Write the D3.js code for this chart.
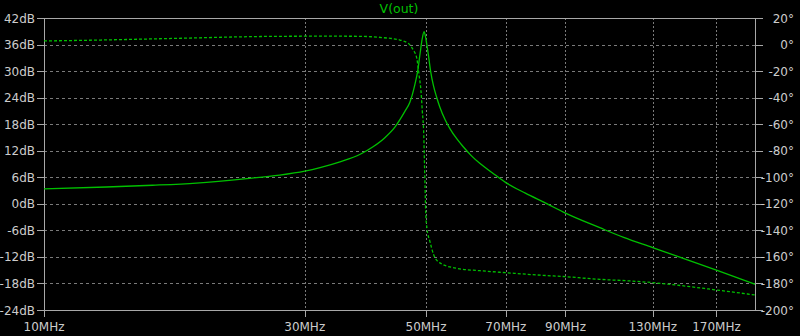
<!DOCTYPE html>
<html>
<head>
<meta charset="utf-8">
<script src="https://cdn.jsdelivr.net/npm/d3@7"></script>
<style>
  html, body { margin: 0; padding: 0; background: #000; }
  svg { display: block; }
</style>
</head>
<body>
<div id="chart"></div>
<script>
// Bode plot of V(out): magnitude (solid) and phase (dashed)
const magFreq = [10, 13, 15.8, 19, 23.5, 27, 30, 32, 34.8, 37.9, 40, 42, 43.9, 45.8, 46.7, 47.7, 48.3, 48.8, 49.2, 49.6, 49.9, 50.2, 50.5, 51.0, 51.6, 52.3, 53.0, 54.2, 55.3, 57, 58.5, 60.5, 62.8, 66, 70, 76, 83, 90, 104, 115, 130, 150, 170, 200];
const magDb   = [3.4, 3.8, 4.2, 4.7, 5.7, 6.5, 7.4, 8.2, 9.5, 11.2, 12.9, 14.9, 17.4, 21.0, 22.9, 26.9, 30.1, 34.2, 37.2, 38.9, 37.8, 35.8, 33.7, 29.9, 26.7, 24.1, 21.9, 19.0, 17.0, 14.6, 12.9, 10.9, 9.1, 7.1, 4.8, 2.4, 0.1, -2.1, -5.4, -7.6, -9.9, -12.6, -15.0, -18.2];

const phaseFreq = [10, 12.7, 15.6, 18.5, 22.2, 27, 33, 37.9, 41.7, 44.8, 46.4, 47.4, 48.1, 48.56, 48.97, 49.24, 49.54, 49.66, 49.8, 49.94, 50.2, 50.85, 51.6, 53.0, 56.9, 62.8, 70, 79.8, 90, 104, 118, 130, 170, 200];
const phaseDeg  = [2.7, 3.4, 4.2, 4.9, 5.7, 6.2, 6.3, 6.2, 5.2, 3.4, 0.9, -4.1, -10.4, -22.9, -35.5, -50.6, -68.1, -85.7, -105.8, -125.9, -138.4, -148.5, -158, -164.5, -168.6, -170.4, -171.9, -173.6, -174.9, -176.9, -178.1, -179.4, -184.9, -188.7];

const xTicks = [10, 30, 50, 70, 90, 130, 170];
const dbTicks = [42, 36, 30, 24, 18, 12, 6, 0, -6, -12, -18, -24];
const degTicks = [20, 0, -20, -40, -60, -80, -100, -120, -140, -160, -180, -200];

const width = 800, height = 336;
const margin = { top: 18, right: 45, bottom: 26, left: 44 };
const innerW = width - margin.left - margin.right;
const innerH = height - margin.top - margin.bottom;

const green = "#00c000";
const axisColor = "#a8a8a8";
const gridColor = "#7a7a7a";
const textColor = "#cccccc";
const font = "DejaVu Sans, Verdana, sans-serif";

const svg = d3.select("#chart").append("svg")
  .attr("width", width)
  .attr("height", height)
  .style("background", "#000");

const g = svg.append("g").attr("transform", `translate(${margin.left},${margin.top})`);

const x = d3.scaleLog().domain([10, 200]).range([0, innerW]);
const yDb = d3.scaleLinear().domain([-24, 42]).range([innerH, 0]);
const yDeg = d3.scaleLinear().domain([-200, 20]).range([innerH, 0]);

// horizontal grid
g.selectAll(".hgrid")
  .data(dbTicks.filter(d => d !== 42 && d !== -24))
  .enter().append("line")
  .attr("x1", 0).attr("x2", innerW)
  .attr("y1", d => Math.round(yDb(d)) + 0.5)
  .attr("y2", d => Math.round(yDb(d)) + 0.5)
  .attr("stroke", gridColor)
  .attr("stroke-dasharray", "3,3");

// vertical grid
g.selectAll(".vgrid")
  .data(xTicks.filter(d => d !== 10))
  .enter().append("line")
  .attr("x1", d => Math.round(x(d)) + 0.5)
  .attr("x2", d => Math.round(x(d)) + 0.5)
  .attr("y1", 0).attr("y2", innerH)
  .attr("stroke", gridColor)
  .attr("stroke-dasharray", "2,2");

// frame: top & bottom lines extend over tick marks
[0, innerH].forEach(yy => {
  g.append("line")
    .attr("x1", -7).attr("x2", innerW + 8)
    .attr("y1", yy + 0.5).attr("y2", yy + 0.5)
    .attr("stroke", axisColor);
});
[0, innerW].forEach(xx => {
  g.append("line")
    .attr("x1", xx + 0.5).attr("x2", xx + 0.5)
    .attr("y1", 0).attr("y2", innerH)
    .attr("stroke", axisColor);
});

// left axis
const left = g.append("g");
left.selectAll("line")
  .data(dbTicks).enter().append("line")
  .attr("x1", -7).attr("x2", 0)
  .attr("y1", d => Math.round(yDb(d)) + 0.5)
  .attr("y2", d => Math.round(yDb(d)) + 0.5)
  .attr("stroke", axisColor);
left.selectAll("text")
  .data(dbTicks).enter().append("text")
  .attr("x", -9)
  .attr("y", d => yDb(d) + 4.5)
  .attr("text-anchor", "end")
  .attr("fill", textColor)
  .style("font-family", font)
  .style("font-size", "12px")
  .text(d => d + "dB");

// right axis
const right = g.append("g");
right.selectAll("line")
  .data(degTicks).enter().append("line")
  .attr("x1", innerW).attr("x2", innerW + 8)
  .attr("y1", d => Math.round(yDeg(d)) + 0.5)
  .attr("y2", d => Math.round(yDeg(d)) + 0.5)
  .attr("stroke", axisColor);
right.selectAll("text")
  .data(degTicks).enter().append("text")
  .attr("x", innerW + 39)
  .attr("y", d => yDeg(d) + 4.5)
  .attr("text-anchor", "end")
  .attr("fill", textColor)
  .style("font-family", font)
  .style("font-size", "12px")
  .text(d => d + "°");

// bottom axis
const bottom = g.append("g").attr("transform", `translate(0,${innerH})`);
bottom.selectAll("line")
  .data(xTicks).enter().append("line")
  .attr("x1", d => Math.round(x(d)) + 0.5)
  .attr("x2", d => Math.round(x(d)) + 0.5)
  .attr("y1", 0).attr("y2", 7)
  .attr("stroke", axisColor);
bottom.selectAll("text")
  .data(xTicks).enter().append("text")
  .attr("x", d => x(d))
  .attr("y", 21)
  .attr("text-anchor", "middle")
  .attr("fill", textColor)
  .style("font-family", font)
  .style("font-size", "12px")
  .text(d => d + "MHz");

// title
svg.append("text")
  .attr("x", 399)
  .attr("y", 13)
  .attr("text-anchor", "middle")
  .attr("fill", green)
  .style("font-family", font)
  .style("font-size", "12.5px")
  .text("V(out)");

// curves
const magData = magFreq.map((f, i) => ({ f, v: magDb[i] }));
const phData = phaseFreq.map((f, i) => ({ f, v: phaseDeg[i] }));

const magLine = d3.line()
  .x(d => x(d.f))
  .y(d => yDb(d.v))
  .curve(d3.curveMonotoneX);

const phLine = d3.line()
  .x(d => x(d.f))
  .y(d => yDeg(d.v))
  .curve(d3.curveMonotoneX);

g.append("path")
  .datum(phData)
  .attr("fill", "none")
  .attr("stroke", green)
  .attr("stroke-width", 1.3)
  .attr("stroke-dasharray", "3,2")
  .attr("d", phLine);

g.append("path")
  .datum(magData)
  .attr("fill", "none")
  .attr("stroke", green)
  .attr("stroke-width", 1.3)
  .attr("d", magLine);
</script>
</body>
</html>
